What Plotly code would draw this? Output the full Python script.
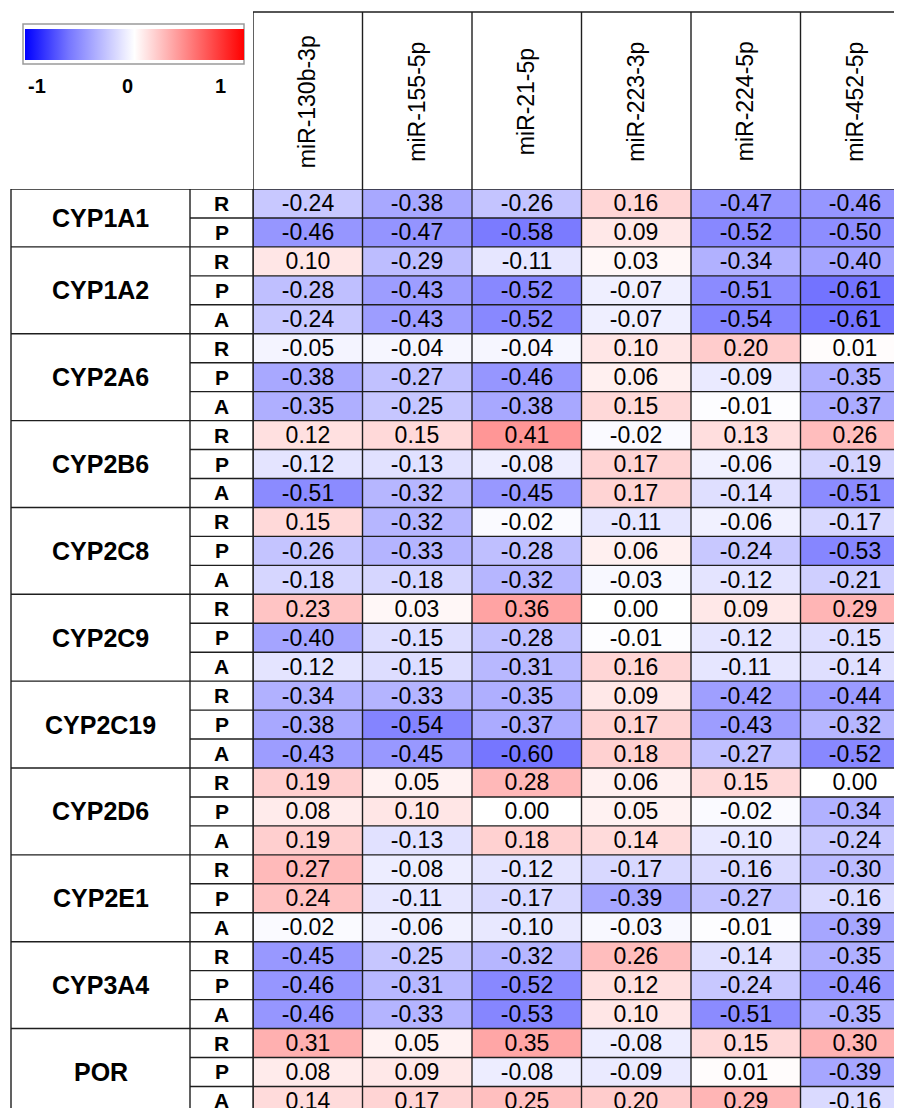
import plotly.graph_objects as go

# ---------------- data ----------------
mirnas = ["miR-130b-3p", "miR-155-5p", "miR-21-5p", "miR-223-3p", "miR-224-5p", "miR-452-5p"]
genes = ["CYP1A1", "CYP1A2", "CYP2A6", "CYP2B6", "CYP2C8", "CYP2C9",
         "CYP2C19", "CYP2D6", "CYP2E1", "CYP3A4", "POR"]
gene_rows = [["R", "P"]] + [["R", "P", "A"]] * 10

mir130b_3p = [-0.24, -0.46, 0.10, -0.28, -0.24, -0.05, -0.38, -0.35, 0.12, -0.12, -0.51,
              0.15, -0.26, -0.18, 0.23, -0.40, -0.12, -0.34, -0.38, -0.43, 0.19, 0.08, 0.19,
              0.27, 0.24, -0.02, -0.45, -0.46, -0.46, 0.31, 0.08, 0.14]
mir155_5p = [-0.38, -0.47, -0.29, -0.43, -0.43, -0.04, -0.27, -0.25, 0.15, -0.13, -0.32,
             -0.32, -0.33, -0.18, 0.03, -0.15, -0.15, -0.33, -0.54, -0.45, 0.05, 0.10, -0.13,
             -0.08, -0.11, -0.06, -0.25, -0.31, -0.33, 0.05, 0.09, 0.17]
mir21_5p = [-0.26, -0.58, -0.11, -0.52, -0.52, -0.04, -0.46, -0.38, 0.41, -0.08, -0.45,
            -0.02, -0.28, -0.32, 0.36, -0.28, -0.31, -0.35, -0.37, -0.60, 0.28, 0.00, 0.18,
            -0.12, -0.17, -0.10, -0.32, -0.52, -0.53, 0.35, -0.08, 0.25]
mir223_3p = [0.16, 0.09, 0.03, -0.07, -0.07, 0.10, 0.06, 0.15, -0.02, 0.17, 0.17,
             -0.11, 0.06, -0.03, 0.00, -0.01, 0.16, 0.09, 0.17, 0.18, 0.06, 0.05, 0.14,
             -0.17, -0.39, -0.03, 0.26, 0.12, 0.10, -0.08, -0.09, 0.20]
mir224_5p = [-0.47, -0.52, -0.34, -0.51, -0.54, 0.20, -0.09, -0.01, 0.13, -0.06, -0.14,
             -0.06, -0.24, -0.12, 0.09, -0.12, -0.11, -0.42, -0.43, -0.27, 0.15, -0.02, -0.10,
             -0.16, -0.27, -0.01, -0.14, -0.24, -0.51, 0.15, 0.01, 0.29]
mir452_5p = [-0.46, -0.50, -0.40, -0.61, -0.61, 0.01, -0.35, -0.37, 0.26, -0.19, -0.51,
             -0.17, -0.53, -0.21, 0.29, -0.15, -0.14, -0.44, -0.32, -0.52, 0.00, -0.34, -0.24,
             -0.30, -0.16, -0.39, -0.35, -0.46, -0.35, 0.30, -0.39, -0.16]

columns = [mir130b_3p, mir155_5p, mir21_5p, mir223_3p, mir224_5p, mir452_5p]
cbar_ticks = [-1, 0, 1]

# ---------------- layout geometry (window pixels) ----------------
WIN_W, WIN_H = 902, 1108
OFF = 8                      # page body margin
W, H = WIN_W - OFF, WIN_H - OFF
X_DATA = 253        # left edge of data grid
COL_W = 109.5
Y_DATA = 189        # top of data grid
ROW_H = 28.95
HEAD_TOP = 12
GENE_X0 = 11
LETTER_X0 = 190
FONT = "Arial, 'Liberation Sans', sans-serif"
LINE = "#1e1e1e"
LW = 1.4


def px(x):
    return (x - OFF) / W


def py(y):
    return 1 - (y - OFF) / H


n_rows = len(mir130b_3p)
z = [[col[r] for col in columns] for r in range(n_rows)]
txt = [[f"{col[r]:.2f}" for col in columns] for r in range(n_rows)]

fig = go.Figure()
fig.add_trace(go.Heatmap(
    z=z, x=list(range(len(mirnas))), y=list(range(n_rows)),
    text=txt, texttemplate="%{text}",
    textfont=dict(family=FONT, size=23, color="black"),
    colorscale=[[0, "rgb(0,0,255)"], [0.2, "rgb(118,118,255)"], [0.5, "rgb(255,255,255)"],
                [1, "rgb(255,0,0)"]],
    zmin=-1, zmax=1, hoverinfo="skip",
    colorbar=dict(orientation="h", x=px(25), xanchor="left", y=py(29), yanchor="top",
                  len=219, lenmode="pixels", thickness=31, thicknessmode="pixels",
                  outlinewidth=0, showticklabels=False, ticks="", xpad=0, ypad=0),
))

x_vis = (WIN_W - X_DATA) / COL_W
y_vis = (WIN_H - Y_DATA) / ROW_H
fig.update_layout(
    width=W, height=H, margin=dict(l=0, r=0, t=0, b=0),
    paper_bgcolor="white", plot_bgcolor="white", showlegend=False,
    xaxis=dict(domain=[px(X_DATA), 1], range=[-0.5, -0.5 + x_vis], visible=False, fixedrange=True),
    yaxis=dict(domain=[0, py(Y_DATA)], range=[-0.5 + y_vis, -0.5], visible=False, fixedrange=True),
)

shapes = []
annotations = []


def ann(**kw):
    base = dict(showarrow=False, xanchor="center", yanchor="middle")
    base.update(kw)
    annotations.append(base)


# column headers
for i, name in enumerate(mirnas):
    ann(x=i, xref="x", y=py((HEAD_TOP + Y_DATA) / 2 + 1), yref="paper",
        text=name, textangle=-90, font=dict(family=FONT, size=23, color="black"))
# vertical lines of header+data
for i in range(len(mirnas) + 1):
    shapes.append(dict(type="line", xref="x", yref="paper", x0=i - 0.5, x1=i - 0.5,
                       y0=py(HEAD_TOP), y1=0, line=dict(color=LINE, width=LW)))
shapes.append(dict(type="line", xref="paper", yref="paper", x0=px(X_DATA), x1=1,
                   y0=py(HEAD_TOP), y1=py(HEAD_TOP), line=dict(color=LINE, width=LW)))
# left vertical lines
for xv in (GENE_X0, LETTER_X0, X_DATA):
    shapes.append(dict(type="line", xref="paper", yref="paper", x0=px(xv), x1=px(xv),
                       y0=py(Y_DATA), y1=0, line=dict(color=LINE, width=LW)))

# row labels and horizontal lines
r = 0
for g, subs in zip(genes, gene_rows):
    start = r
    ann(x=px((GENE_X0 + LETTER_X0) / 2), xref="paper",
        y=start + (len(subs) - 1) / 2, yref="y", text=f"<b>{g}</b>",
        font=dict(family=FONT, size=25, color="black"))
    for k, s in enumerate(subs):
        ann(x=px((LETTER_X0 + X_DATA) / 2), xref="paper", y=r, yref="y",
            text=f"<b>{s}</b>", font=dict(family=FONT, size=21, color="black"))
        x0 = GENE_X0 if k == 0 else LETTER_X0
        shapes.append(dict(type="line", xref="paper", yref="y", x0=px(x0), x1=1,
                           y0=r - 0.5, y1=r - 0.5, line=dict(color=LINE, width=LW)))
        r += 1
shapes.append(dict(type="line", xref="paper", yref="y", x0=px(GENE_X0), x1=1,
                   y0=r - 0.5, y1=r - 0.5, line=dict(color=LINE, width=LW)))

# colour bar frame and labels
shapes.append(dict(type="rect", xref="paper", yref="paper", x0=px(23), x1=px(244),
                   y0=py(24), y1=py(64), line=dict(color="#9a9a9a", width=1.5)))
for t, xl in zip(cbar_ticks, (37, 127, 220)):
    ann(x=px(xl), xref="paper", y=py(86), yref="paper",
        text=f"<b>{t}</b>", font=dict(family=FONT, size=20, color="black"))

fig.update_layout(shapes=shapes, annotations=annotations)
fig.write_html("out.html")
